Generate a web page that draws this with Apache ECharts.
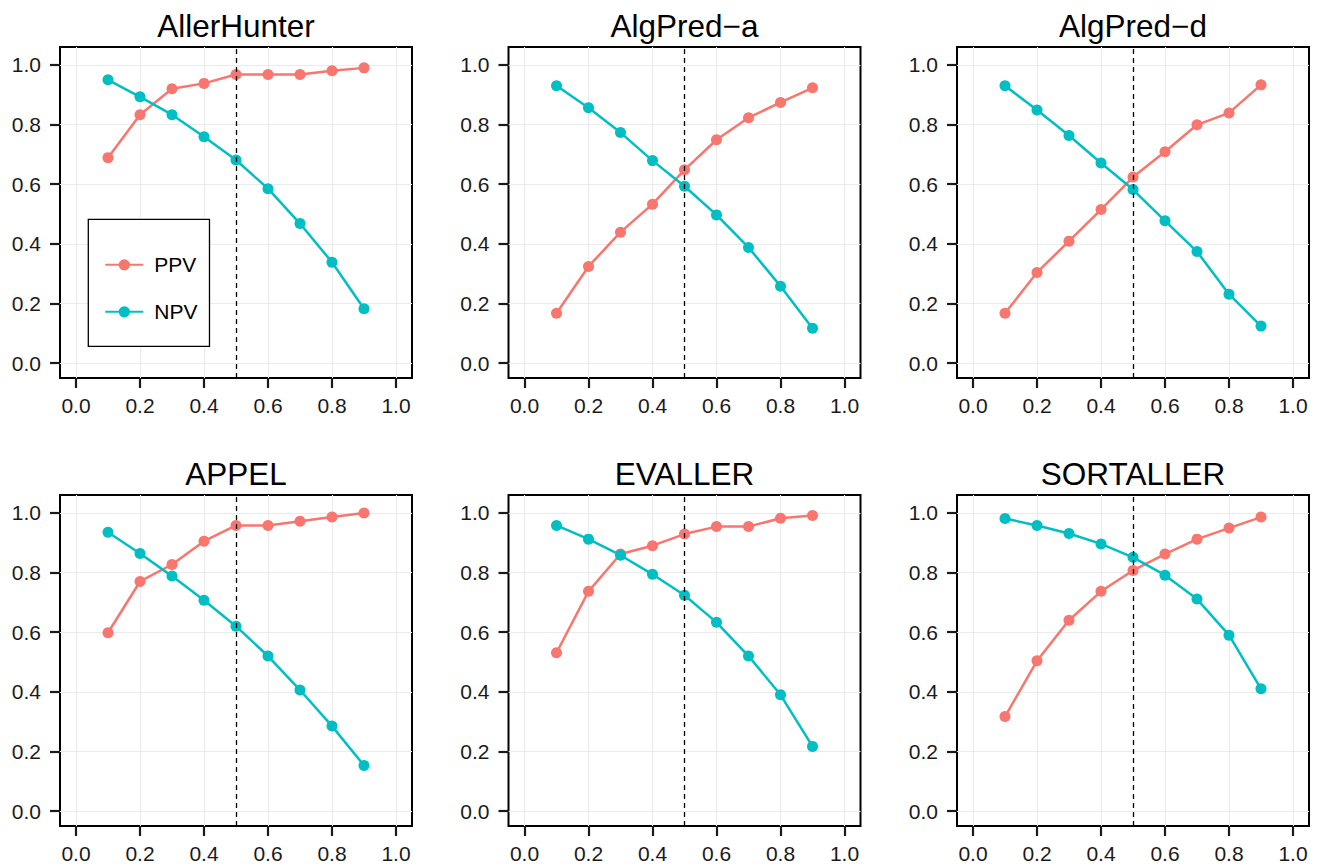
<!DOCTYPE html>
<html>
<head>
<meta charset="utf-8">
<script src="https://cdn.jsdelivr.net/npm/echarts@6/dist/echarts.min.js"></script>
<style>
  html, body { margin: 0; padding: 0; background: #fff; }
  #chart { width: 1324px; height: 868px; }
</style>
</head>
<body>
<div id="chart"></div>
<script>
// Probability cut-offs shared by every panel
const thresholds = [0.1, 0.2, 0.3, 0.4, 0.5, 0.6, 0.7, 0.8, 0.9];
const tickValues = [0, 0.2, 0.4, 0.6, 0.8, 1.0];
const cutoffLine = 0.5;

const tools = ['AllerHunter', 'AlgPred\u2212a', 'AlgPred\u2212d', 'APPEL', 'EVALLER', 'SORTALLER'];

// Positive / negative predictive value per tool
const allerHunterPPV = [0.689, 0.833, 0.920, 0.938, 0.968, 0.968, 0.968, 0.980, 0.990];
const allerHunterNPV = [0.950, 0.893, 0.833, 0.759, 0.681, 0.585, 0.468, 0.338, 0.182];
const algPredAPPV    = [0.167, 0.324, 0.439, 0.533, 0.648, 0.749, 0.823, 0.874, 0.923];
const algPredANPV    = [0.930, 0.856, 0.773, 0.679, 0.593, 0.497, 0.388, 0.258, 0.117];
const algPredDPPV    = [0.167, 0.304, 0.409, 0.515, 0.624, 0.709, 0.799, 0.839, 0.933];
const algPredDNPV    = [0.930, 0.849, 0.763, 0.671, 0.582, 0.477, 0.374, 0.231, 0.124];
const appelPPV       = [0.598, 0.770, 0.827, 0.905, 0.958, 0.958, 0.972, 0.986, 1.000];
const appelNPV       = [0.935, 0.864, 0.788, 0.707, 0.620, 0.520, 0.406, 0.285, 0.153];
const evallerPPV     = [0.531, 0.737, 0.862, 0.890, 0.929, 0.954, 0.954, 0.982, 0.991];
const evallerNPV     = [0.958, 0.912, 0.858, 0.794, 0.724, 0.633, 0.520, 0.390, 0.217];
const sortallerPPV   = [0.317, 0.504, 0.640, 0.737, 0.807, 0.862, 0.912, 0.949, 0.986];
const sortallerNPV   = [0.981, 0.958, 0.931, 0.896, 0.851, 0.791, 0.711, 0.590, 0.410];

const ppvByTool = [allerHunterPPV, algPredAPPV, algPredDPPV, appelPPV, evallerPPV, sortallerPPV];
const npvByTool = [allerHunterNPV, algPredANPV, algPredDNPV, appelNPV, evallerNPV, sortallerNPV];

const PPV_COLOR = '#F8766D';
const NPV_COLOR = '#00BFC4';
const FONT = '"Liberation Sans", Arial, Helvetica, sans-serif';

// Panel geometry (3 columns x 2 rows)
const colLeft = [60, 508.5, 957];
const rowTop = [47, 495];
const panelW = 352;
const panelH = 331;

const grids = [], xAxes = [], yAxes = [], titles = [], series = [];

tools.forEach((name, i) => {
  const col = i % 3, row = Math.floor(i / 3);
  const left = colLeft[col], top = rowTop[row];

  grids.push({
    left: left, top: top, width: panelW, height: panelH,
    show: true, borderColor: '#000', borderWidth: 2, backgroundColor: 'transparent',
    containLabel: false
  });

  titles.push({
    text: name,
    left: left + panelW / 2,
    top: top - 37,
    textAlign: 'center',
    padding: 0,
    textStyle: { fontFamily: FONT, fontSize: 31.5, fontWeight: 'normal', color: '#000' }
  });

  const axisCommon = {
    type: 'value',
    gridIndex: i,
    min: -0.05,
    axisLine: { show: false, onZero: false },
    axisTick: { show: true, length: 10, customValues: tickValues,
                lineStyle: { color: '#1a1a1a', width: 2.2 } },
    axisLabel: { customValues: tickValues, fontFamily: FONT, fontSize: 21, color: '#1a1a1a',
                 formatter: v => v.toFixed(1) },
    splitLine: { show: true, lineStyle: { color: '#EBEBEB', width: 1.1 } }
  };

  xAxes.push(Object.assign({}, axisCommon, {
    max: 1.05, position: 'bottom',
    axisLabel: Object.assign({}, axisCommon.axisLabel, { margin: 17 })
  }));
  yAxes.push(Object.assign({}, axisCommon, {
    max: 1.06, position: 'left',
    axisLabel: Object.assign({}, axisCommon.axisLabel, { margin: 19 })
  }));

  const lineSeries = (label, values, color) => ({
    name: label,
    type: 'line',
    xAxisIndex: i,
    yAxisIndex: i,
    data: thresholds.map((t, k) => [t, values[k]]),
    symbol: 'circle',
    symbolSize: 11,
    showSymbol: true,
    clip: false,
    animation: false,
    itemStyle: { color: color },
    lineStyle: { color: color, width: 2.5 },
    emphasis: { disabled: true }
  });

  const ppv = lineSeries('PPV', ppvByTool[i], PPV_COLOR);
  const npv = lineSeries('NPV', npvByTool[i], NPV_COLOR);
  npv.markLine = {
    silent: true,
    symbol: 'none',
    animation: false,
    label: { show: false },
    lineStyle: { color: '#000', width: 1.3, type: [5, 4] },
    data: [{ xAxis: cutoffLine }]
  };
  series.push(ppv, npv);
});

const chart = echarts.init(document.getElementById('chart'), null, { renderer: 'svg' });
chart.setOption({
  backgroundColor: '#fff',
  animation: false,
  textStyle: { fontFamily: FONT },
  title: titles,
  grid: grids,
  xAxis: xAxes,
  yAxis: yAxes,
  legend: {
    data: ['PPV', 'NPV'],
    orient: 'vertical',
    left: 88.3,
    top: 219.3,
    padding: [35, 12, 24, 16],
    itemWidth: 38,
    itemHeight: 14,
    itemGap: 26,
    borderColor: '#000',
    borderWidth: 1.3,
    borderRadius: 0,
    backgroundColor: '#fff',
    selectedMode: false,
    textStyle: { fontFamily: FONT, fontSize: 21, color: '#000', padding: [0, 0, 0, 6] }
  },
  series: series
});
</script>
</body>
</html>
